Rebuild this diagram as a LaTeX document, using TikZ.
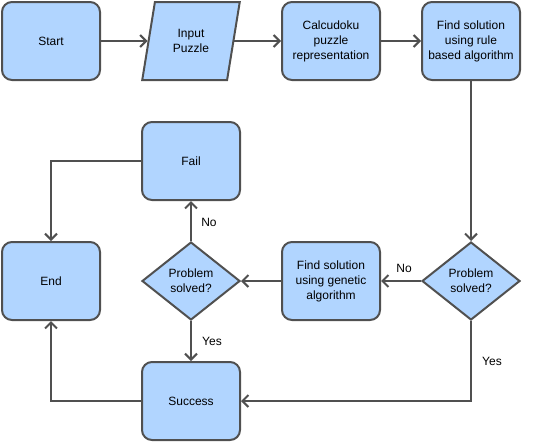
\documentclass[tikz,border=0pt]{standalone}
\usepackage{fontspec}
\setmainfont{Liberation Sans}
\usetikzlibrary{arrows.meta,shapes.geometric,calc}
\definecolor{boxfill}{HTML}{B1D5FF}
\definecolor{boxline}{HTML}{505050}
\begin{document}
\begin{tikzpicture}[x=1pt,y=-1pt,
  every node/.style={font=\fontsize{12}{15}\selectfont},
  procbox/.style={draw=boxline, fill=boxfill, line width=2pt, rounded corners=10pt,
    minimum width=98pt, minimum height=78pt, inner sep=2pt, align=center},
  iobox/.style={draw=boxline, fill=boxfill, line width=2pt, trapezium,
    trapezium left angle=75.6, trapezium right angle=104.4, trapezium stretches=true,
    minimum width=98pt, minimum height=78pt, inner sep=2pt, align=center},
  decbox/.style={draw=boxline, fill=boxfill, line width=2pt, diamond,
    minimum width=98pt, minimum height=78pt, inner sep=0pt, align=center},
  conn/.style={draw=boxline, line width=2pt, -{Straight Barb[length=6pt,width=12pt]}},
  lbl/.style={inner sep=1pt}
]
\useasboundingbox (0,0) rectangle (534,442);

\node[procbox] (start) at (51,41) {Start};
\node[iobox] (inp) at (191,41) {Input\\Puzzle};
\node[procbox] (calc) at (331,41) {Calcudoku\\puzzle\\representation};
\node[procbox] (rule) at (471,41) {Find solution\\using rule\\based algorithm};

\node[procbox] (fail) at (191,161) {Fail};

\node[procbox] (end) at (51,281) {End};
\node[decbox] (d2) at (191,281) {Problem\\solved?};
\node[procbox] (gen) at (331,281) {Find solution\\using genetic\\algorithm};
\node[decbox] (d1) at (471,281) {Problem\\solved?};

\node[procbox] (succ) at (191,401) {Success};

\coordinate (inpL) at ($(inp.bottom left corner)!0.5!(inp.top left corner)$);
\coordinate (inpR) at ($(inp.bottom right corner)!0.5!(inp.top right corner)$);

\draw[conn] (start.east) -- (inpL);
\draw[conn] (inpR) -- (calc.west);
\draw[conn] (calc.east) -- (rule.west);
\draw[conn] (rule.south) -- (d1.north);
\draw[conn] (d1.west) -- node[lbl, above=6pt, xshift=3pt] {No} (gen.east);
\draw[conn] (d1.south) |- node[lbl, pos=0.25, xshift=21pt] {Yes} (succ.east);
\draw[conn] (gen.west) -- (d2.east);
\draw[conn] (d2.north) -- node[lbl, xshift=18pt, yshift=-1pt] {No} (fail.south);
\draw[conn] (d2.south) -- node[lbl, xshift=21pt] {Yes} (succ.north);
\draw[conn] (fail.west) -| (end.north);
\draw[conn] (succ.west) -| (end.south);
\end{tikzpicture}
\end{document}
